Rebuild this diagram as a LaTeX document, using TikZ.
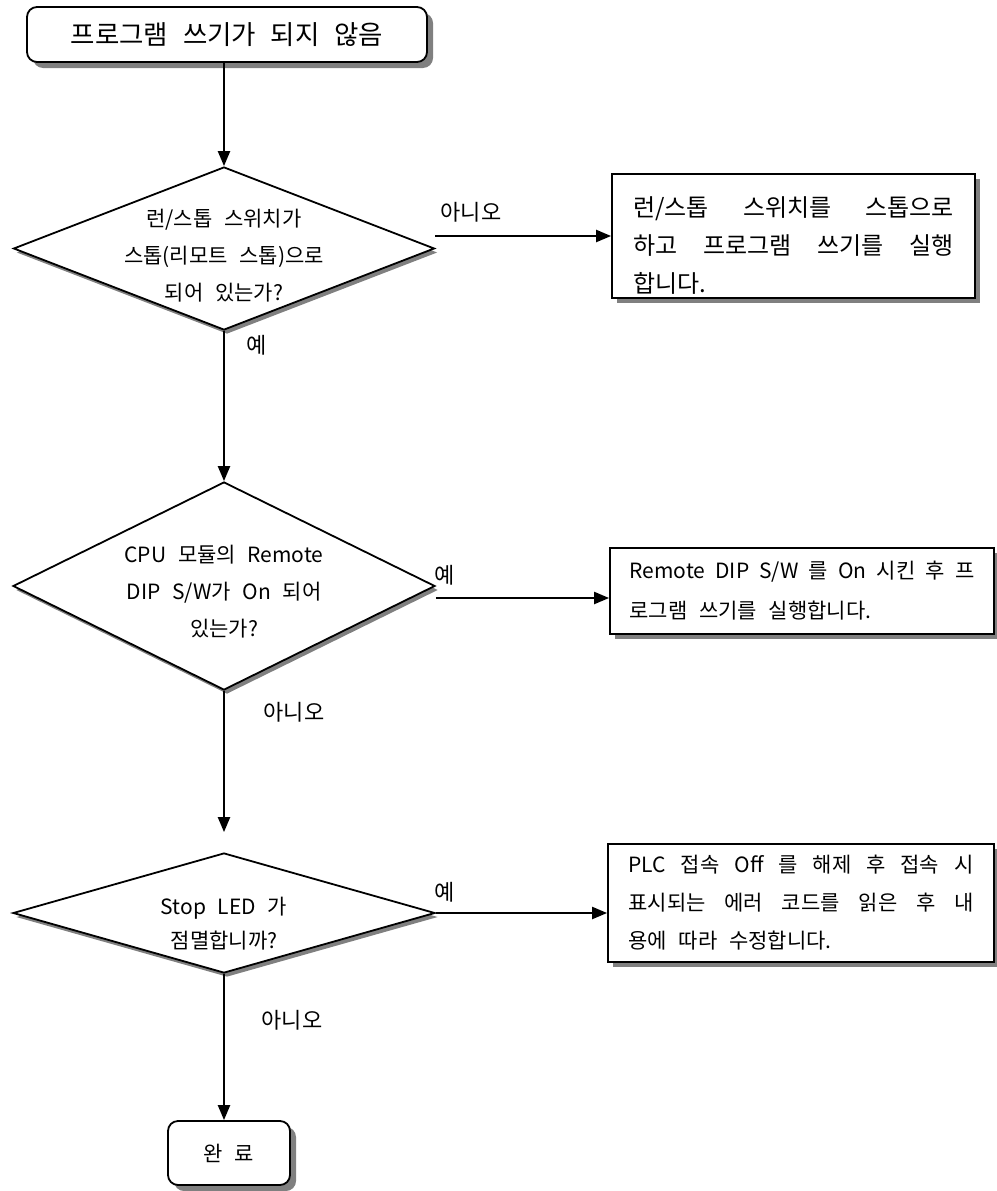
\documentclass[tikz,border=0pt]{standalone}
\usepackage{fontspec}
\setmainfont{Noto Sans CJK KR}[WordSpace=2.5]
\usetikzlibrary{shapes.geometric,shadows,arrows.meta}
\definecolor{ShadowClr}{RGB}{128,128,128}

% text block centred in a diamond without widening it
\newcommand{\dtext}[2][0pt]{\makebox[0pt]{\smash{\raisebox{#1}{\begin{tabular}{@{}c@{}}#2\end{tabular}}}}}

\begin{document}
\begin{tikzpicture}[x=1pt,y=-1pt,
  startstop/.style={draw,line width=1.8pt,rounded corners=10pt,fill=white,
    drop shadow={shadow xshift=6pt,shadow yshift=-6pt,fill=ShadowClr,opacity=1}},
  decision/.style={diamond,draw,line width=1.8pt,fill=white,inner sep=0pt,
    font=\fontsize{21pt}{37pt}\selectfont,
    drop shadow={shadow xshift=3pt,shadow yshift=-4pt,fill=ShadowClr,opacity=1}},
  action/.style={rectangle,draw,line width=1.8pt,fill=white,align=justify,
    inner xsep=18pt,inner ysep=2pt,
    drop shadow={shadow xshift=5pt,shadow yshift=-5pt,fill=ShadowClr,opacity=1}},
  answer/.style={inner sep=0pt,font=\fontsize{22pt}{26pt}\selectfont},
  flow/.style={line width=2.2pt,-{Triangle[length=15pt,width=12pt]}}]

\useasboundingbox (0,0) rectangle (996,1191);

% start and end
\node[startstop,minimum width=400pt,minimum height=55pt,
  font=\fontsize{26.5pt}{30pt}\selectfont] (start) at (227,34.5) {프로그램 쓰기가 되지 않음};
\node[startstop,minimum width=122pt,minimum height=64pt,
  font=\fontsize{21pt}{25pt}\selectfont] (done) at (229,1153) {완 료};

% decisions
\node[decision,minimum width=421pt,minimum height=163pt] (runstop) at (224,248.5)
  {\dtext[-12.75pt]{런/스톱 스위치가\\스톱(리모트 스톱)으로\\되어 있는가?}};
\node[decision,minimum width=422pt,minimum height=208pt] (dipsw) at (224,586)
  {\dtext[-11pt]{CPU 모듈의 Remote\\DIP S/W가 On 되어\\있는가?}};
\node[decision,minimum width=422pt,minimum height=120pt,
  font=\fontsize{21pt}{34pt}\selectfont] (stopled) at (224,913)
  {\dtext[-17pt]{Stop LED 가\\점멸합니까?}};

% actions
\node[action,minimum width=363pt,minimum height=124pt,text width=321pt,
  font=\fontsize{24pt}{38pt}\selectfont] (fixrun) at (793.5,236)
  {\rule{0pt}{39pt}런/스톱 스위치를 스톱으로\linebreak 하고 프로그램 쓰기를 실행\linebreak 합니다.};
\node[action,minimum width=384pt,minimum height=86pt,text width=345pt,
  font=\fontsize{21pt}{40pt}\selectfont] (fixdip) at (802,591)
  {Remote DIP S/W 를 On 시킨 후 프\linebreak 로그램 쓰기를 실행합니다.};
\node[action,minimum width=386pt,minimum height=118pt,text width=345pt,
  font=\fontsize{21pt}{38pt}\selectfont] (fixled) at (801,903)
  {PLC 접속 Off 를 해제 후 접속 시\linebreak 표시되는 에러 코드를 읽은 후 내\linebreak 용에 따라 수정합니다.};

% answers
\node[answer] (no1) at (471,212) {아니오};
\node[answer] (yes1) at (257,345) {예};
\node[answer] (yes2) at (445,575) {예};
\node[answer] (no2) at (294,712) {아니오};
\node[answer] (yes3) at (445,892) {예};
\node[answer] (no3) at (292,1020) {아니오};

% flow lines
\coordinate (dipin) at ([yshift=-7pt]fixdip.west);
\draw[flow] (start.south -| runstop.north) -- (runstop.north);
\draw[flow] (fixrun.west -| runstop.east) -- (fixrun.west);
\draw[flow] (runstop.south) -- (dipsw.north);
\draw[flow] (dipin -| dipsw.east) -- (dipin);
\draw[flow,shorten >=20pt] (dipsw.south) -- (stopled.north);
\draw[flow] (stopled.east) -- (stopled.east -| fixled.west);
\draw[flow] (stopled.south) -- (stopled.south |- done.north);

\end{tikzpicture}
\end{document}
